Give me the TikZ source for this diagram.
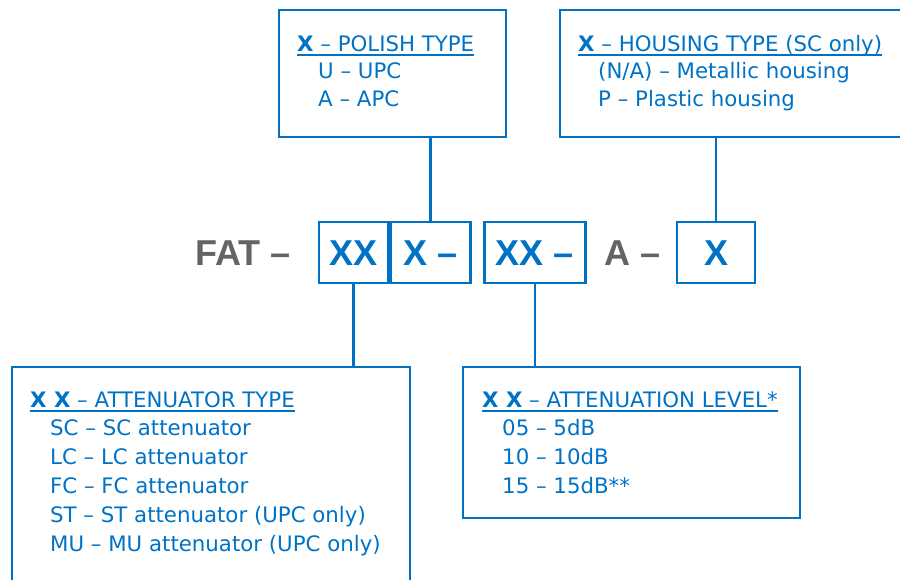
\documentclass[tikz,border=0pt]{standalone}
\usepackage{fontspec}
\setmainfont{DejaVu Sans}
\newfontfamily\codefont{Liberation Sans}
\usetikzlibrary{positioning}
\definecolor{codeblue}{RGB}{0, 114, 198}
\definecolor{codegray}{RGB}{100, 100, 100}

\tikzset{
  infobox/.style={draw=codeblue, line width=2.8pt, inner sep=0pt},
  codebox/.style={draw=codeblue, line width=2.8pt, inner sep=0pt, minimum height=61pt,
    text=codeblue, font=\codefont\fontsize{36}{36}\selectfont\bfseries, text height=26pt, text depth=0pt},
  codetext/.style={text=codegray, font=\codefont\fontsize{36}{36}\selectfont\bfseries, inner sep=0pt,
    text height=26pt, text depth=0pt},
  headtext/.style={text=codeblue, font=\fontsize{21.3}{21.3}\selectfont, inner sep=0pt, anchor=base west},
  itemtext/.style={text=codeblue, font=\fontsize{21.3}{21.3}\selectfont, inner sep=0pt, anchor=base west},
  link/.style={draw=codeblue, line width=2.8pt},
  uline/.style={draw=codeblue, line width=2.2pt}
}

\begin{document}
\begin{tikzpicture}[x=1pt,y=-1pt]
  \useasboundingbox (0,0) rectangle (900,579);
  \clip (0,0) rectangle (900,579);

  % code row
  \node[codetext, anchor=east] (fat) at (291,252.5) {FAT –};
  \node[codebox, minimum width=69pt] (code1) at (353.5,252.5) {XX};
  \node[codebox, minimum width=80pt, right=0pt of code1] (code2) {X –};
  \node[codebox, minimum width=101pt] (code3) at (535,252.5) {XX –};
  \node[codetext] (codea) at (633,252.5) {A –};
  \node[codebox, minimum width=78pt] (code4) at (716,252.5) {X};

  % polish type
  \node[infobox, minimum width=227pt, minimum height=127pt] (polish) at (392.5,73.5) {};
  \node[headtext] (polhead) at (297,51) {\textbf{X} – POLISH TYPE};
  \draw[uline] ([yshift=-4pt]polhead.base west) -- ([yshift=-4pt]polhead.base east);
  \node[itemtext] (pol1) at (318,78) {U – UPC};
  \node[itemtext] (pol2) at (318,106) {A – APC};

  % housing type
  \node[infobox, minimum width=360pt, minimum height=127pt] (housing) at (740,73.5) {};
  \node[headtext] (houhead) at (578,51) {\textbf{X} – HOUSING TYPE (SC only)};
  \draw[uline] ([yshift=-4pt]houhead.base west) -- ([yshift=-4pt]houhead.base east);
  \node[itemtext] (hou1) at (598,78) {(N/A) – Metallic housing};
  \node[itemtext] (hou2) at (598,106) {P – Plastic housing};

  % attenuator type
  \node[infobox, minimum width=398pt, minimum height=240pt] (atttype) at (211,487) {};
  \node[headtext] (typhead) at (30,407) {\textbf{X X} – ATTENUATOR TYPE};
  \draw[uline] ([yshift=-4pt]typhead.base west) -- ([yshift=-4pt]typhead.base east);
  \node[itemtext] (typ1) at (50,435) {SC – SC attenuator};
  \node[itemtext] (typ2) at (50,464) {LC – LC attenuator};
  \node[itemtext] (typ3) at (50,493) {FC – FC attenuator};
  \node[itemtext] (typ4) at (50,522) {ST – ST attenuator (UPC only)};
  \node[itemtext] (typ5) at (50,551) {MU – MU attenuator (UPC only)};

  % attenuation level
  \node[infobox, minimum width=337pt, minimum height=151pt] (attlevel) at (631.5,442.5) {};
  \node[headtext] (levhead) at (482,407) {\textbf{X X} – ATTENUATION LEVEL*};
  \draw[uline] ([yshift=-4pt]levhead.base west) -- ([yshift=-4pt]levhead.base east);
  \node[itemtext] (lev1) at (502,435) {05 – 5dB};
  \node[itemtext] (lev2) at (502,464) {10 – 10dB};
  \node[itemtext] (lev3) at (502,493) {15 – 15dB**};

  % connectors
  \draw[link] (code2.north) -- (code2.north |- polish.south);
  \draw[link] (code4.north) -- (code4.north |- housing.south);
  \draw[link] (code1.south) -- (code1.south |- atttype.north);
  \draw[link] (code3.south) -- (code3.south |- attlevel.north);
\end{tikzpicture}
\end{document}
